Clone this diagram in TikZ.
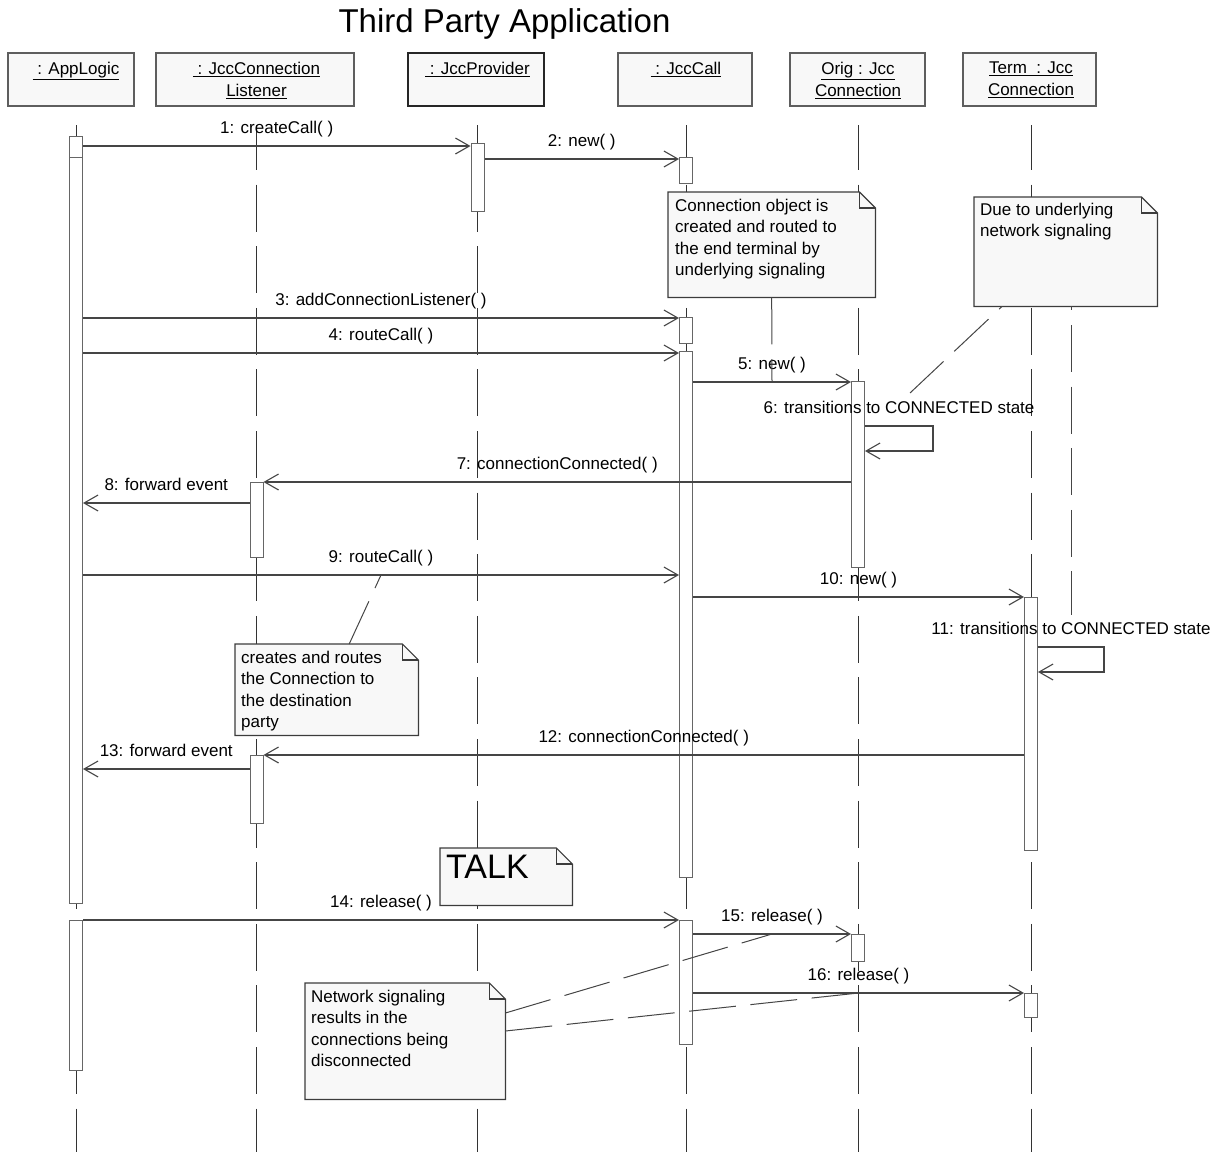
\documentclass[tikz,border=0pt]{standalone}
\usepackage{fontspec}
\setmainfont{Liberation Sans}
\usetikzlibrary{arrows.meta,calc}
\pgfdeclarelayer{life}
\pgfdeclarelayer{paper}
\pgfsetlayers{life,paper,main}

\definecolor{boxfill}{HTML}{F8F8F8}
\definecolor{boxline}{HTML}{5E5E5E}
\definecolor{noteline}{HTML}{3C3C3C}
\definecolor{actline}{HTML}{666666}
\definecolor{msgline}{HTML}{454545}
\definecolor{lifecol}{HTML}{333333}

\tikzset{
  hdr/.style={draw=boxline, fill=boxfill, line width=1.2pt, inner sep=0pt, minimum height=53pt},
  hdrbold/.style={hdr, draw=black!85, line width=2pt},
  hdrtxt/.style={anchor=north, align=center, inner sep=0pt, font=\fontsize{17}{22}\selectfont},
  act/.style={draw=actline, fill=white, line width=1pt, minimum width=13pt, inner sep=0pt, anchor=north},
  lifel/.style={draw=lifecol, line width=1pt, dash pattern=on 47pt off 14.6pt, dash phase=2pt},
  msg/.style={draw=msgline, line width=1.1pt, -{Straight Barb[length=14pt,width=16pt]}},
  lbl/.style={anchor=base, yshift=13pt, inner sep=0pt, font=\fontsize{17}{20}\selectfont},
  notebox/.style={anchor=north west, inner sep=0pt, draw=none},
  notedraw/.style={draw=noteline, fill=boxfill, line width=1.2pt},
  notetxt/.style={anchor=north west, inner sep=0pt, align=left, font=\fontsize{17}{21.3}\selectfont},
  anchorl/.style={draw=msgline, line width=1pt, dash pattern=on 47pt off 14.6pt},
}

% paper of a note with its folded corner, below the note text
\newcommand\notepaper[1]{%
  \begin{pgfonlayer}{paper}
    \filldraw[notedraw] (#1.north west) -- ([xshift=-16pt]#1.north east)
      -- ([yshift=-16pt]#1.north east) -- (#1.south east) -- (#1.south west) -- cycle;
    \draw[notedraw, fill=none] ([xshift=-16pt]#1.north east) |- ([yshift=-16pt]#1.north east);
  \end{pgfonlayer}}

\begin{document}
\begin{tikzpicture}[x=1pt,y=-1pt]
\useasboundingbox (0,0) rectangle (1227,1152);

% title
\node[anchor=base, inner sep=0pt, font=\fontsize{33}{38}\selectfont] (title) at (504.5,32) {Third Party Application};

% object heads
\node[hdr, minimum width=126pt] (app) at (71,79.5) {};
\node[hdr, minimum width=198pt] (lst) at (255,79.5) {};
\node[hdrbold, minimum width=136pt] (prv) at (476,79.5) {};
\node[hdr, minimum width=134pt] (call) at (685,79.5) {};
\node[hdr, minimum width=135pt] (orig) at (857.5,79.5) {};
\node[hdr, minimum width=133pt] (term) at (1029.5,79.5) {};

\node[hdrtxt] (app-name) at (76,62) {\underline{\ : AppLogic}};
\node[hdrtxt] (lst-name) at (256.5,62) {\underline{\ : JccConnection}\\\underline{Listener}};
\node[hdrtxt] (prv-name) at (477.5,62) {\underline{\ : JccProvider}};
\node[hdrtxt] (call-name) at (686,62) {\underline{\ : JccCall}};
\node[hdrtxt] (orig-name) at (858,62) {\underline{Orig : Jcc}\\\underline{Connection}};
\node[hdrtxt] (term-name) at (1031,62) {\underline{Term\ \ : Jcc}\\\underline{Connection}};

% lifelines
\coordinate (app-top) at (76,125);    \coordinate (app-end) at (76,1152);
\coordinate (lst-top) at (256.5,125); \coordinate (lst-end) at (256.5,1152);
\coordinate (prv-top) at (477.5,125); \coordinate (prv-end) at (477.5,1152);
\coordinate (call-top) at (686,125);  \coordinate (call-end) at (686,1152);
\coordinate (orig-top) at (858,125);  \coordinate (orig-end) at (858,1152);
\coordinate (term-top) at (1031,125); \coordinate (term-end) at (1031,1152);
\begin{pgfonlayer}{life}
  \foreach \o in {app,lst,prv,call,orig,term}
    \draw[lifel] (\o-top) -- (\o-end);
\end{pgfonlayer}

% activations
\node[act, minimum height=767pt] (a1) at (76,136) {};
\coordinate (ydiv) at (0,157);
\draw[draw=actline, line width=1pt] (a1.west |- ydiv) -- (a1.east |- ydiv);
\node[act, minimum height=150pt] (a2) at (76,920) {};
\node[act, minimum height=75pt] (l1) at (256.5,482) {};
\node[act, minimum height=68pt] (l2) at (256.5,755) {};
\node[act, minimum height=68pt] (p1) at (477.5,143) {};
\node[act, minimum height=26pt] (c1) at (686,157) {};
\node[act, minimum height=26pt] (c2) at (686,317) {};
\node[act, minimum height=526pt] (c3) at (686,351) {};
\node[act, minimum height=124pt] (c4) at (686,920) {};
\node[act, minimum height=186pt] (o1) at (858,381) {};
\node[act, minimum height=27pt] (o2) at (858,934) {};
\node[act, minimum height=253pt] (t1) at (1031,597) {};
\node[act, minimum height=24pt] (t2) at (1031,993) {};

% message levels
\coordinate (y1) at (0,146);  \coordinate (y2) at (0,159);
\coordinate (y3) at (0,318);  \coordinate (y4) at (0,353);
\coordinate (y5) at (0,382);  \coordinate (s6a) at (0,426);
\coordinate (s6b) at (0,451); \coordinate (s6r) at (933,0);
\coordinate (y7) at (0,482);  \coordinate (y8) at (0,503);
\coordinate (y9) at (0,575);  \coordinate (y10) at (0,597);
\coordinate (s11a) at (0,647); \coordinate (s11b) at (0,672);
\coordinate (s11r) at (1104,0);
\coordinate (y12) at (0,755); \coordinate (y13) at (0,769);
\coordinate (y14) at (0,920); \coordinate (y15) at (0,934);
\coordinate (y16) at (0,993);

% messages
\draw[msg] (a1.east |- y1) -- node[lbl,midway] (m1) {1: createCall( )} (p1.west |- y1);
\draw[msg] (p1.east |- y2) -- node[lbl,midway] (m2) {2: new( )} (c1.west |- y2);
\draw[msg] (a1.east |- y3) -- node[lbl,midway] (m3) {3: addConnectionListener( )} (c2.west |- y3);
\draw[msg] (a1.east |- y4) -- node[lbl,midway] (m4) {4: routeCall( )} (c3.west |- y4);
\draw[msg] (c3.east |- y5) -- node[lbl,midway] (m5) {5: new( )} coordinate[midway] (k5) (o1.west |- y5);
\draw[msg] (o1.east |- s6a) -- node[lbl,midway] (m6) {6: transitions to CONNECTED state} (s6r |- s6a)
  -- (s6r |- s6b) -- (o1.east |- s6b);
\draw[msg] (o1.west |- y7) -- node[lbl,midway] (m7) {7: connectionConnected( )} (l1.east |- y7);
\draw[msg] (l1.west |- y8) -- node[lbl,midway] (m8) {8: forward event} (a1.east |- y8);
\draw[msg] (a1.east |- y9) -- node[lbl,midway] (m9) {9: routeCall( )} coordinate[midway] (k9) (c3.west |- y9);
\draw[msg] (c3.east |- y10) -- node[lbl,midway] (m10) {10: new( )} (t1.west |- y10);
\draw[msg] (t1.east |- s11a) -- node[lbl,midway] (m11) {11: transitions to CONNECTED state} (s11r |- s11a)
  -- (s11r |- s11b) -- (t1.east |- s11b);
\draw[msg] (t1.west |- y12) -- node[lbl,midway] (m12) {12: connectionConnected( )} (l2.east |- y12);
\draw[msg] (l2.west |- y13) -- node[lbl,midway] (m13) {13: forward event} (a1.east |- y13);
\draw[msg] (a2.east |- y14) -- node[lbl,midway] (m14) {14: release( )} (c4.west |- y14);
\draw[msg] (c4.east |- y15) -- node[lbl,midway] (m15) {15: release( )} coordinate[midway] (k15) (o2.west |- y15);
\draw[msg] (c4.east |- y16) -- node[lbl,midway] (m16) {16: release( )} coordinate[midway] (k16) (t2.west |- y16);

% notes
\node[notebox, minimum width=207pt, minimum height=105pt] (n1) at (668,192) {};
\notepaper{n1}
\node[notetxt] (n1-text) at (675,199) {Connection object is\\created and routed to\\the end terminal by\\underlying signaling};

\node[notebox, minimum width=183pt, minimum height=109pt] (n2) at (974,197) {};
\notepaper{n2}
\node[notetxt] (n2-text) at (980,203) {Due to underlying\\network signaling};

\node[notebox, minimum width=183pt, minimum height=91pt] (n3) at (235,644) {};
\notepaper{n3}
\node[notetxt] (n3-text) at (241,651) {creates and routes\\the Connection to\\the destination\\party};

\node[notebox, minimum width=132pt, minimum height=57pt] (talk) at (440,848) {};
\notepaper{talk}
\node[anchor=north west, inner sep=0pt, font=\fontsize{34}{38}\selectfont] (talk-text) at (446,855) {TALK};

\node[notebox, minimum width=200pt, minimum height=116pt] (n4) at (305,983) {};
\notepaper{n4}
\node[notetxt] (n4-text) at (311,990) {Network signaling\\results in the\\connections being\\disconnected};

% note anchors
\coordinate (t6) at ([xshift=11pt,yshift=20pt]m6.base);
\coordinate (t11) at ([yshift=19pt]m11.base);
\draw[anchorl] (n1.south) -- (k5);
\draw[anchorl, dash phase=43pt] ([xshift=28pt]n2.south west) -- (t6);
\draw[anchorl, dash phase=43pt] (n2.south -| t11) -- (t11);
\draw[anchorl] ([xshift=22.5pt]n3.north) -- (k9);
\draw[anchorl] ([yshift=-30pt]n4.north east) -- (k15);
\draw[anchorl] ([yshift=-48pt]n4.north east) -- (k16);
\end{tikzpicture}
\end{document}
